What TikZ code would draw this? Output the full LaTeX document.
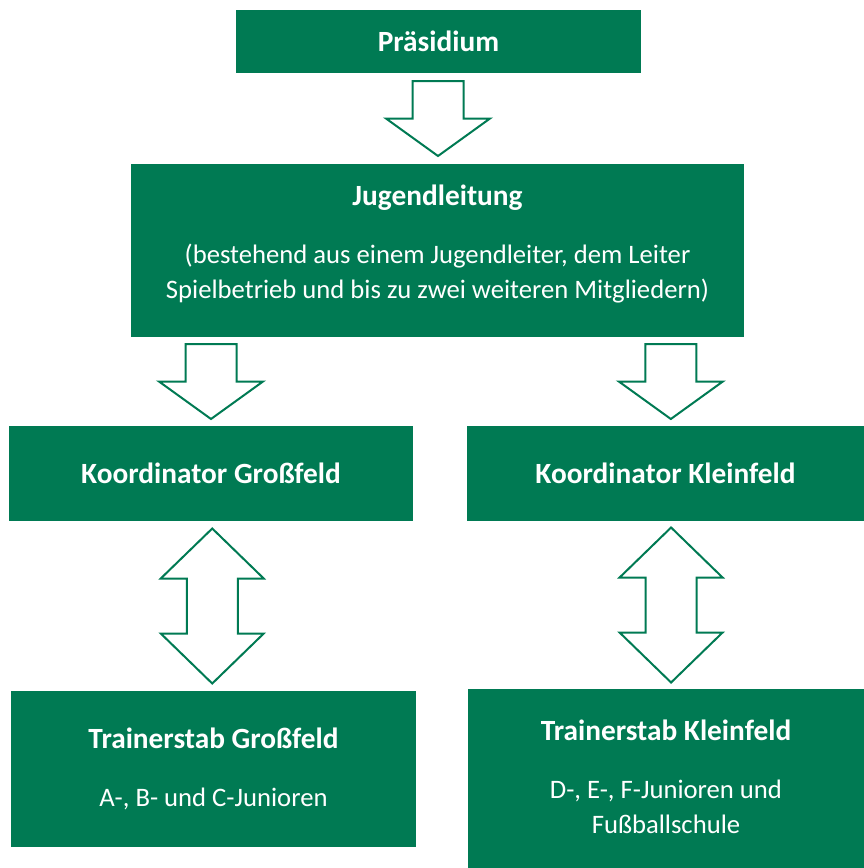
\documentclass[tikz,border=0pt]{standalone}
\usepackage{fontspec}
\setmainfont{Carlito}
\usetikzlibrary
  {
    calc,                     % midpoints between boxes
  }

\definecolor{vereinsgruen}{RGB}{0,122,83}
\newcommand\titel[1]{{\fontsize{22}{26.25}\selectfont\bfseries #1}}

\begin{document}
\begin{tikzpicture}
    [
      x=0.75pt,
      y=-0.75pt,
      box/.style=
        {
          rectangle,
          fill=vereinsgruen,
          text=white,
          align=center,
          inner sep=0pt,
          font=\fontsize{20}{26.25}\selectfont,
        },
      pfeil/.style=
        {
          draw=vereinsgruen,
          fill=white,
          line width=1.5pt,
          line join=miter,
        },
      pfeil runter/.pic=
        {
          \draw[pfeil] (-25.5,-37.5) -- (25.5,-37.5) -- (25.5,0) -- (52,0)
            -- (0,37.5) -- (-52,0) -- (-25.5,0) -- cycle;
        },
      doppelpfeil/.pic=
        {
          \draw[pfeil] (0,-77.5) -- (51.5,-27.5) -- (25.5,-27.5) -- (25.5,27.5)
            -- (51.5,27.5) -- (0,77.5) -- (-51.5,27.5) -- (-25.5,27.5)
            -- (-25.5,-27.5) -- (-51.5,-27.5) -- cycle;
        },
    ]
    \useasboundingbox (0,0) rectangle (864,868);

    \node[box, minimum width=303.75pt, minimum height=47.25pt]
      (praesidium)     at (438.5,41.5) {\titel{Präsidium}};
    \node[box, minimum width=459.75pt, minimum height=129.75pt, text depth=13pt]
      (jugendleitung)  at (437.5,250.5)
      {\titel{Jugendleitung}\\[17.25pt]
       (bestehend aus einem Jugendleiter, dem Leiter\\
       Spielbetrieb und bis zu zwei weiteren Mitgliedern)};
    \node[box, minimum width=303pt, minimum height=71.25pt]
      (koordinator gross) at (211,473.5) {\titel{Koordinator Großfeld}};
    \node[box, minimum width=297.75pt, minimum height=71.25pt]
      (koordinator klein) at (665.5,473.5) {\titel{Koordinator Kleinfeld}};
    \node[box, minimum width=303.75pt, minimum height=117pt]
      (trainer gross)  at (213.5,769)
      {\titel{Trainerstab Großfeld}\\[17.25pt]
       A-, B- und C-Junioren};
    \node[box, minimum width=297pt, minimum height=134.25pt, text depth=3pt]
      (trainer klein)  at (666,778.5)
      {\titel{Trainerstab Kleinfeld}\\[17.25pt]
       D-, E-, F-Junioren und\\
       Fußballschule};

    % Pfeile zwischen den Ebenen
    \pic at ($(praesidium.south)!.5!(jugendleitung.north)$) {pfeil runter};
    \pic at ($(jugendleitung.south -| koordinator gross.north)!.5!(koordinator gross.north)$) {pfeil runter};
    \pic[xshift=4pt] at ($(jugendleitung.south -| koordinator klein.north)!.5!(koordinator klein.north)$) {pfeil runter};
    \pic at ($(koordinator gross.south)!.5!(trainer gross.north)$) {doppelpfeil};
    \pic[xshift=4pt] at ($(koordinator klein.south)!.5!(trainer klein.north)$) {doppelpfeil};
  \end{tikzpicture}
\end{document}
